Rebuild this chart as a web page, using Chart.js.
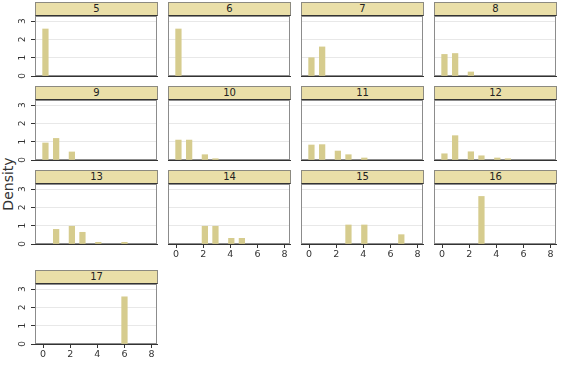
<!DOCTYPE html>
<html>
<head>
<meta charset="utf-8">
<script src="https://cdn.jsdelivr.net/npm/chart.js@4.4.1/dist/chart.umd.min.js"></script>
<style>
  body { margin: 0; background: #fff; font-family: "DejaVu Sans", sans-serif; }
  #page { position: relative; width: 561px; height: 366px; overflow: hidden; }
  .strip {
    position: absolute; box-sizing: border-box; height: 14px;
    background: #eadfa8; border: 1px solid #8c8a80; border-bottom: 1px solid #333;
    font-size: 10px; line-height: 12px; text-align: center; color: #222;
  }
  .box { position: absolute; }
  #ytitle {
    position: absolute; left: -22px; top: 176px; width: 60px; text-align: center;
    font-size: 14px; color: #333; transform: rotate(-90deg);
  }
</style>
</head>
<body>
<div id="page">
  <div id="ytitle">Density</div>
</div>
<script>
// panel groups and the bin centres shared by all histograms
const groups = ["5", "6", "7", "8", "9", "10", "11", "12", "13", "14", "15", "16", "17"];
const binCenters = [0.17, 0.96, 2.12, 2.9, 4.07, 4.85, 6.0, 6.8];
const xTicks = [0, 2, 4, 6, 8];
const yTicks = [0, 1, 2, 3];

// density per bin, one array per group
const dens5  = [2.57, 0, 0, 0, 0, 0, 0, 0];
const dens6  = [2.57, 0, 0, 0, 0, 0, 0, 0];
const dens7  = [1.0, 1.59, 0, 0, 0, 0, 0, 0];
const dens8  = [1.18, 1.23, 0.22, 0, 0, 0, 0, 0];
const dens9  = [0.93, 1.18, 0.44, 0, 0, 0, 0, 0];
const dens10 = [1.09, 1.09, 0.29, 0.07, 0, 0, 0, 0];
const dens11 = [0.82, 0.84, 0.49, 0.29, 0.11, 0, 0, 0];
const dens12 = [0.34, 1.33, 0.45, 0.23, 0.11, 0.07, 0, 0];
const dens13 = [0, 0.8, 0.97, 0.64, 0.09, 0, 0.09, 0];
const dens14 = [0, 0, 0.97, 0.97, 0.31, 0.31, 0, 0];
const dens15 = [0, 0, 0, 1.04, 1.04, 0, 0, 0.51];
const dens16 = [0, 0, 0, 2.6, 0, 0, 0, 0];
const dens17 = [0, 0, 0, 0, 0, 0, 2.58, 0];
const series = [dens5, dens6, dens7, dens8, dens9, dens10, dens11, dens12, dens13, dens14, dens15, dens16, dens17];

const colLeft = [35, 168, 301, 434];
const rowTop = [15, 99, 183, 283];
const plotW = 122, plotH = 60, axisW = 35, axisH = 22, padTop = 8, padRight = 6;

// plot frame (grey box round the plot region)
const framePlugin = {
  id: "frame",
  beforeDatasetsDraw(chart) {
    const a = chart.chartArea, c = chart.ctx;
    c.save();
    c.strokeStyle = "#8c8c8c";
    c.lineWidth = 1;
    c.strokeRect(Math.round(a.left) + 0.5, Math.round(a.top) + 0.5, Math.round(a.width) - 1, Math.round(a.height) - 1);
    c.restore();
  }
};

// vertical (rotated) y labels, Stata style
const yLabelPlugin = {
  id: "ylab",
  afterDraw(chart) {
    if (!chart.options.plugins.ylab.show) return;
    const s = chart.scales.y, c = chart.ctx;
    c.save();
    c.fillStyle = "#333";
    c.font = "9px 'DejaVu Sans'";
    c.textAlign = "center";
    c.textBaseline = "middle";
    yTicks.forEach(v => {
      c.save();
      c.translate(axisW - 12, s.getPixelForValue(v));
      c.rotate(-Math.PI / 2);
      c.fillText(String(v), 0, 0);
      c.restore();
    });
    c.restore();
  }
};

const page = document.getElementById("page");

groups.forEach((g, i) => {
  const col = i % 4, row = Math.floor(i / 4);
  const showY = col === 0;
  const showX = row === 3 || (row === 2 && col > 0);

  const strip = document.createElement("div");
  strip.className = "strip";
  strip.style.left = colLeft[col] + "px";
  strip.style.top = (rowTop[row] - 13) + "px";
  strip.style.width = (plotW + 1) + "px";
  strip.textContent = g;
  page.appendChild(strip);

  const box = document.createElement("div");
  box.className = "box";
  const w = axisW + plotW + padRight, h = padTop + plotH + axisH;
  box.style.left = (colLeft[col] - axisW) + "px";
  box.style.top = (rowTop[row] - padTop + 1) + "px";
  const cv = document.createElement("canvas");
  cv.width = w; cv.height = h;
  cv.style.width = w + "px"; cv.style.height = h + "px";
  box.appendChild(cv);
  page.appendChild(box);

  new Chart(cv, {
    type: "bar",
    data: {
      datasets: [{
        data: binCenters
          .map((x, k) => ({ x: x, y: series[i][k] }))
          .filter(p => p.y > 0),
        backgroundColor: "#d6cc8e",
        borderWidth: 0,
        barThickness: 5.6,
      }],
    },
    plugins: [framePlugin, yLabelPlugin],
    options: {
      responsive: false,
      animation: false,
      devicePixelRatio: 1,
      layout: { padding: { top: padTop, right: padRight, left: 0, bottom: 0 } },
      plugins: { legend: { display: false }, tooltip: { enabled: false }, ylab: { show: showY } },
      scales: {
        x: {
          type: "linear",
          offset: false,
          min: -0.6,
          max: 8.4,
          afterBuildTicks: s => { s.ticks = xTicks.map(v => ({ value: v })); },
          afterFit: s => { s.height = axisH; },
          grid: { offset: false, drawOnChartArea: false, drawTicks: showX, tickLength: 4, tickColor: "#333" },
          border: { display: true, color: "#333" },
          ticks: { display: showX, color: "#333", font: { size: 9.5, family: "DejaVu Sans" }, padding: 1, maxRotation: 0 },
        },
        y: {
          min: 0,
          max: 3.28,
          afterBuildTicks: s => { s.ticks = yTicks.map(v => ({ value: v })); },
          afterFit: s => { s.width = axisW; },
          grid: { color: "#e8e8e8", drawTicks: showY, tickLength: 4, tickColor: "#333" },
          border: { display: true, color: "#333" },
          ticks: { display: false },
        },
      },
    },
  });
});
</script>
</body>
</html>
